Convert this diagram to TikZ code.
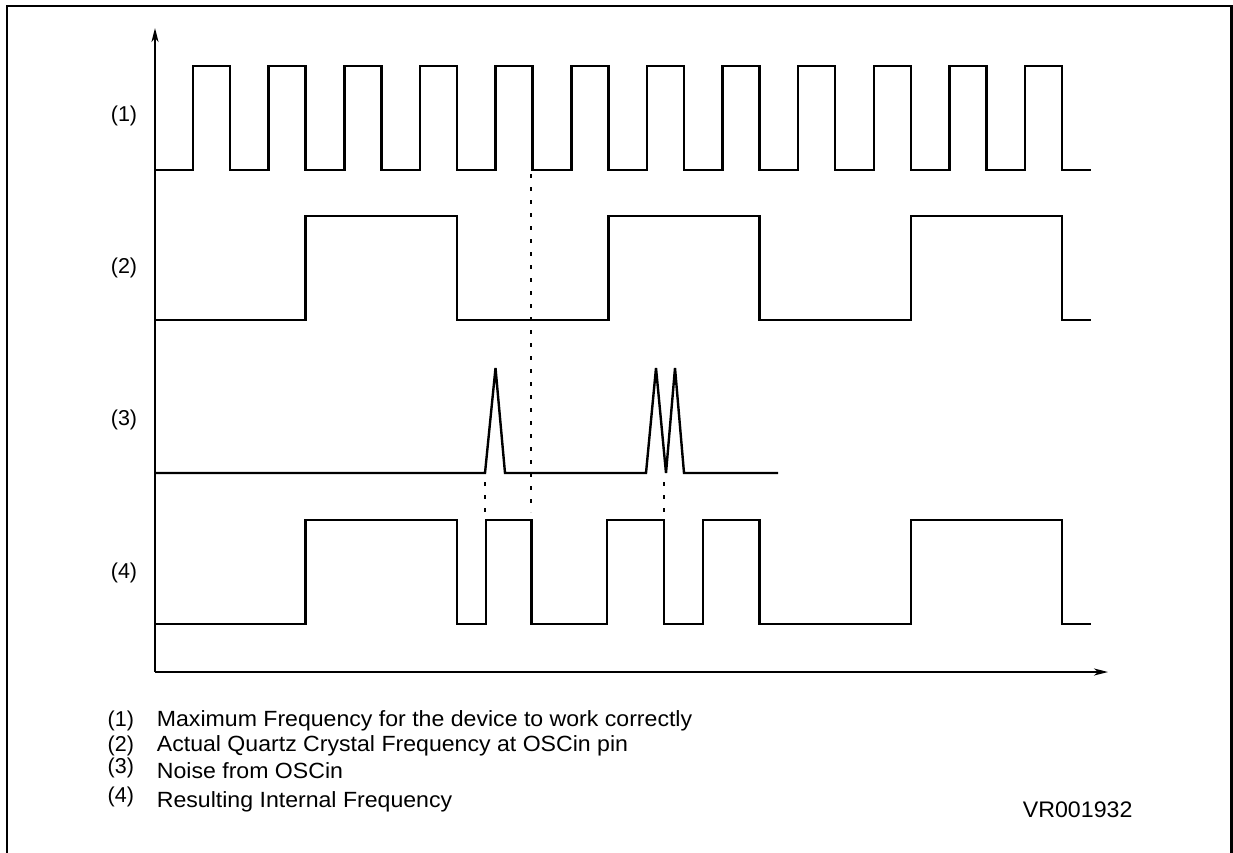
\documentclass[tikz,border=0pt]{standalone}
\usepackage{fontspec}
\setmainfont{Liberation Sans}
\usetikzlibrary{arrows.meta}
\tikzset{
  x=1pt,y=-1pt,
  sig/.style={line width=2.6pt,line join=miter,line cap=butt},
  axisline/.style={line width=2pt,-{Stealth[length=14pt,width=7pt,inset=4pt]}},
  frameline/.style={line width=2.4pt},
  guide/.style={line width=2pt,dash pattern=on 4pt off 9pt},
  lab/.style={inner sep=0pt,font=\fontsize{21.5}{24}\selectfont},
  legnum/.style={inner sep=0pt,anchor=base west,font=\fontsize{21.5}{24}\selectfont},
  legtxt/.style={inner sep=0pt,anchor=base west,font=\fontsize{22}{24}\selectfont},
}
\newcommand{\wide}[1]{\scalebox{1.05}[1]{#1}}
\begin{document}
\begin{tikzpicture}
\useasboundingbox (0,0) rectangle (1233,852);
% frame
\draw[frameline] (7,853) -- (7,6) -- (1231.5,6) -- (1231.5,853);
% axes
\coordinate (origin) at (155,672);
\coordinate (ytip) at (155,28);
\coordinate (xtip) at (1108,672);
\draw[axisline] (origin) -- (ytip);
\draw[axisline] (origin) -- (xtip);
% signal 1
\draw[sig] (155,170)
  \foreach \r in {193,268.6,344.3,419.9,495.6,571.2,646.8,722.5,798.1,873.8,949.4,1025}{
    -- (\r,170) -- (\r,66) -- ({\r+37},66) -- ({\r+37},170) }
  -- (1091,170);
% signal 2
\draw[sig] (155,320) -- (305.6,320) -- (305.6,216) -- (456.9,216) -- (456.9,320)
  -- (608.2,320) -- (608.2,216) -- (759.5,216) -- (759.5,320)
  -- (910.8,320) -- (910.8,216) -- (1062,216) -- (1062,320) -- (1091,320);
% signal 3
\draw[sig,line width=2.4pt] (155,473) -- (485,473) -- (495.5,368) -- (505,473) -- (646,473)
  -- (656,368) -- (666,473) -- (675,368) -- (684,473) -- (778,473);
% signal 4
\draw[sig] (155,624) -- (305.6,624) -- (305.6,520) -- (456.9,520) -- (456.9,624)
  -- (486,624) -- (486,520) -- (531.7,520) -- (531.7,624) -- (607,624) -- (607,520)
  -- (664,520) -- (664,624) -- (703,624) -- (703,520) -- (759.5,520) -- (759.5,624)
  -- (910.8,624) -- (910.8,520) -- (1062,520) -- (1062,624) -- (1091,624);
% dotted guides
\draw[guide] (531,174) -- (531,512);
\draw[guide] (485,482) -- (485,512);
\draw[guide] (664,482) -- (664,512);
% side labels
\node[lab] (l1) at (124,116) {(1)};
\node[lab] (l2) at (124,268) {(2)};
\node[lab] (l3) at (124,420) {(3)};
\node[lab] (l4) at (124,573) {(4)};
% legend
\node[legnum] (n1) at (107.5,726) {(1)};
\node[legtxt] (t1) at (156.7,726) {\wide{Maximum Frequency for the device to work correctly}};
\node[legnum] (n2) at (107.5,751) {(2)};
\node[legtxt] (t2) at (156.7,751) {\wide{Actual Quartz Crystal Frequency at OSCin pin}};
\node[legnum] (n3) at (107.5,773) {(3)};
\node[legtxt] (t3) at (156.7,778) {\wide{Noise from OSCin}};
\node[legnum] (n4) at (107.5,802) {(4)};
\node[legtxt] (t4) at (156.7,807) {\wide{Resulting Internal Frequency}};
\node[inner sep=0pt,anchor=base west,font=\fontsize{22.5}{24}\selectfont] (vr) at (1022.7,817) {\scalebox{1.03}[1]{VR001932}};
\end{tikzpicture}
\end{document}
